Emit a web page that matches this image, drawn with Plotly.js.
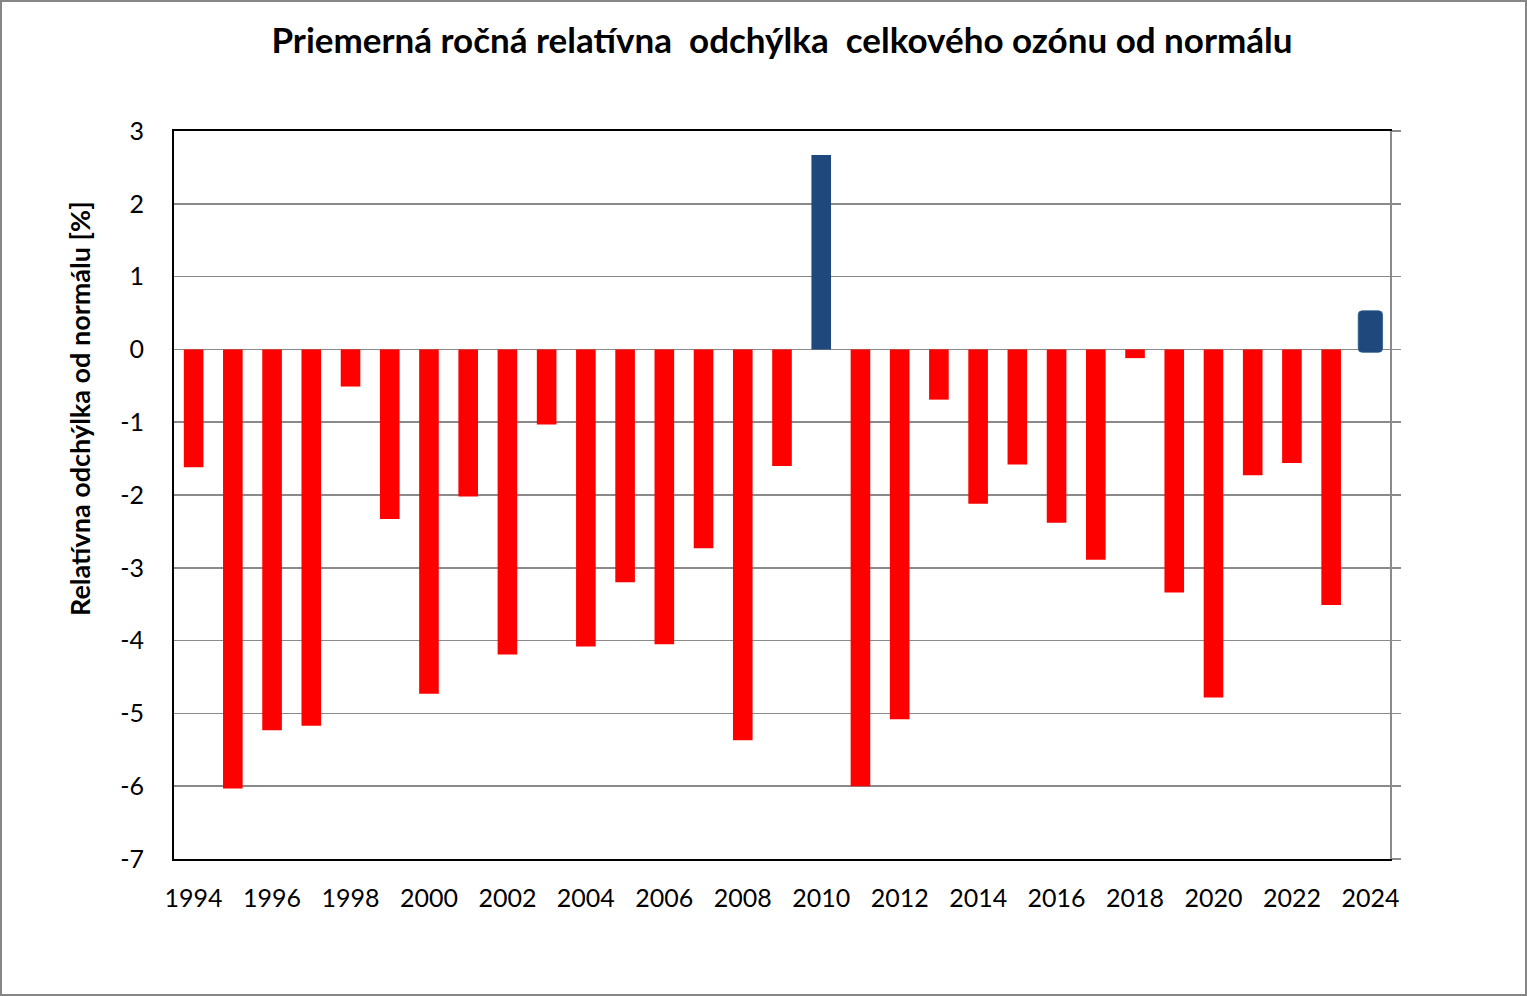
<!DOCTYPE html>
<html>
<head>
<meta charset="utf-8">
<script src="https://cdn.plot.ly/plotly-3.0.1.min.js"></script>
<style>
html,body{margin:0;padding:0;background:#fff;}
#wrap{position:relative;width:1527px;height:996px;}
#chart{position:absolute;left:0;top:0;width:1527px;height:996px;}
#frame{position:absolute;left:0;top:0;width:1527px;height:996px;box-sizing:border-box;border:2px solid #868686;pointer-events:none;}
</style>
</head>
<body>
<div id="wrap"><div id="chart"></div><div id="frame"></div></div>
<script>
// Years and annual relative deviation of total ozone from normal [%]
const years = [1994,1995,1996,1997,1998,1999,2000,2001,2002,2003,2004,2005,2006,2007,2008,2009,2010,2011,2012,2013,2014,2015,2016,2017,2018,2019,2020,2021,2022,2023];
const deviation = [-1.62,-6.03,-5.23,-5.17,-0.51,-2.33,-4.73,-2.02,-4.19,-1.03,-4.08,-3.20,-4.05,-2.73,-5.37,-1.60,2.67,-6.00,-5.08,-0.69,-2.12,-1.58,-2.38,-2.89,-0.12,-3.34,-4.78,-1.73,-1.56,-3.51];
const lastYear = [2024];
const lastDeviation = [0.57];

const tickYears = [1994,1996,1998,2000,2002,2004,2006,2008,2010,2012,2014,2016,2018,2020,2022,2024];
const yTicks = [3,2,1,0,-1,-2,-3,-4,-5,-6,-7];

const titleText = 'Priemerná ročná relatívna  odchýlka  celkového ozónu od normálu';
const yTitleText = 'Relatívna odchýlka od normálu [%]';

const RED = '#FF0000', BLUE = '#1F497D';
const FONT = 'Lato, "Open Sans", sans-serif';

const traces = [
  {
    type: 'bar', x: years, y: deviation, width: 0.5,
    marker: {color: deviation.map(v => v >= 0 ? BLUE : RED), line: {width: 0}},
    hoverinfo: 'x+y', showlegend: false
  },
  {
    type: 'bar', x: lastYear, y: lastDeviation, base: -0.04, width: 0.62,
    marker: {color: BLUE, cornerradius: 4, line: {width: 0.8, color: '#2a5a8c'}},
    hoverinfo: 'x+y', showlegend: false
  },
  {
    type: 'scatter', x: [2024], y: [0], yaxis: 'y2', mode: 'markers',
    marker: {opacity: 0}, hoverinfo: 'skip', showlegend: false
  }
];

const layout = {
  width: 1527, height: 996,
  margin: {l: 174, r: 137, t: 131, b: 137, pad: 0},
  paper_bgcolor: '#fff', plot_bgcolor: '#fff',
  barmode: 'overlay',
  font: {family: FONT, color: '#000', size: 25},
  title: {
    text: '<b>' + titleText + '</b>',
    font: {family: FONT, size: 35, color: '#000'},
    x: 0.5, xanchor: 'center', xref: 'paper',
    y: 1 - 41/996, yanchor: 'middle', yref: 'container'
  },
  xaxis: {
    range: [1993.5, 2024.5], tickmode: 'array', tickvals: tickYears,
    ticktext: tickYears.map(String),
    showgrid: false, zeroline: false,
    showline: true, linecolor: '#000', linewidth: 2, mirror: true,
    ticks: '', ticklabelstandoff: 16,
    tickfont: {family: FONT, size: 25, color: '#000'}
  },
  yaxis: {
    range: [-7, 3], tickmode: 'array', tickvals: yTicks,
    ticktext: yTicks.map(String),
    showgrid: true, gridcolor: '#8a8a8a', gridwidth: 1.5,
    zeroline: true, zerolinecolor: '#8a8a8a', zerolinewidth: 1.5,
    showline: true, linecolor: '#000', linewidth: 2,
    ticks: '', ticklabelstandoff: 23,
    tickfont: {family: FONT, size: 25, color: '#000'}
  },
  yaxis2: {
    overlaying: 'y', side: 'right', range: [-7, 3],
    tickmode: 'array', tickvals: yTicks, showticklabels: false,
    showgrid: false, zeroline: false,
    showline: true, linecolor: '#8a8a8a', linewidth: 1.5,
    ticks: 'outside', ticklen: 9, tickcolor: '#8a8a8a', tickwidth: 1.5
  },
  annotations: [{
    text: '<b>' + yTitleText + '</b>',
    xref: 'paper', yref: 'paper',
    x: (79 - 174) / 1216, y: (859 - 409) / 728,
    xanchor: 'center', yanchor: 'middle',
    textangle: -90, showarrow: false,
    font: {family: FONT, size: 27, color: '#000'}
  }]
};

Plotly.newPlot('chart', traces, layout, {displayModeBar: false, staticPlot: true});
</script>
</body>
</html>
